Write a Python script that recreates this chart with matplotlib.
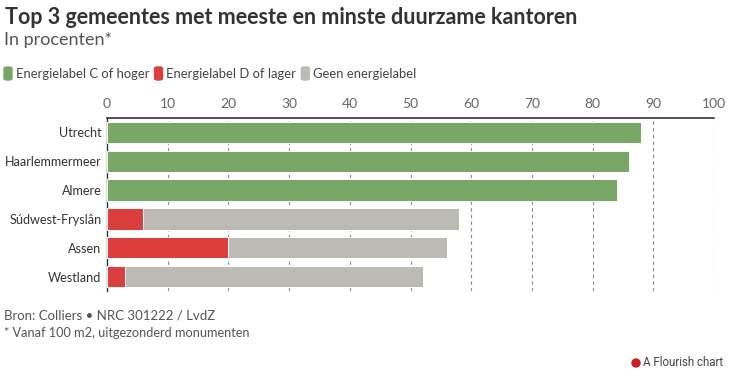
import matplotlib
matplotlib.use("Agg")
import matplotlib.pyplot as plt
from matplotlib.patches import FancyBboxPatch, Ellipse
import numpy as np

plt.rcParams['font.family'] = ['Lato', 'DejaVu Sans']

gemeenten = ["Utrecht", "Haarlemmermeer", "Almere", "Súdwest-Fryslân", "Assen", "Westland"]
label_c_hoger = [88, 86, 84, 0, 0, 0]
label_d_lager = [0, 0, 0, 6, 20, 3]
geen_label = [0, 0, 0, 52, 36, 49]

series_names = ["Energielabel C of hoger", "Energielabel D of lager", "Geen energielabel"]
colors = ["#79a765", "#dc3e3e", "#bbbab5"]
xticks = [0, 10, 20, 30, 40, 50, 60, 70, 80, 90, 100]

W, H = 729, 379
fig = plt.figure(figsize=(W / 100, H / 100), dpi=100)
ax = fig.add_axes([107 / W, 1 - 291 / H, (714 - 107) / W, (291 - 118) / H])

y = np.arange(len(gemeenten))
left = np.zeros(len(gemeenten))
for vals, col in zip([label_c_hoger, label_d_lager, geen_label], colors):
    vals = np.array(vals, dtype=float)
    ax.barh(y, vals, left=left, height=0.74, color=col, edgecolor="white",
            linewidth=0.7, zorder=3)
    left += vals

ax.set_xlim(0, 100)
ax.set_ylim(len(gemeenten) - 0.5, -0.5)
ax.set_xticks(xticks)
ax.xaxis.tick_top()
ax.tick_params(axis="x", length=0, pad=6, labelsize=10, labelcolor="#666666")
ax.set_yticks(y)
ax.set_yticklabels(gemeenten)
ax.tick_params(axis="y", length=0, pad=4, labelsize=9.1, labelcolor="#333333")
for t in xticks[1:]:
    ax.axvline(t, color="#888888", linestyle=(0, (3, 3)), linewidth=0.8, zorder=1)
for s in ["right", "bottom"]:
    ax.spines[s].set_visible(False)
ax.spines["top"].set_color("#333333")
ax.spines["top"].set_linewidth(1.2)
ax.spines["left"].set_color("#333333")
ax.spines["left"].set_linewidth(1.0)
ax.spines["top"].set_zorder(4)

fig.text(5 / W, 1 - 17 / H, "Top 3 gemeentes met meeste en minste duurzame kantoren",
         fontsize=15.5, fontweight="bold", color="#333333", va="center", ha="left")
fig.text(4 / W, 1 - 40 / H, "In procenten*", fontsize=13, color="#555555",
         va="center", ha="left")

# legend
x = 4
for name, col in zip(series_names, colors):
    box = FancyBboxPatch((x / W, 1 - 80 / H), 8 / W, 13 / H,
                         boxstyle="round,pad=0,rounding_size=0.004",
                         transform=fig.transFigure, color=col)
    fig.patches.append(box)
    t = fig.text((x + 12) / W, 1 - 73.5 / H, name, fontsize=9.4, color="#444444",
                 va="center", ha="left")
    fig.canvas.draw()
    bb = t.get_window_extent()
    x = bb.x1 + 5

fig.text(4 / W, 1 - 316 / H, "Bron: Colliers \u2022 NRC 301222 / LvdZ", fontsize=9.5,
         color="#555555", va="center", ha="left")
fig.text(4 / W, 1 - 333 / H, "* Vanaf 100 m2, uitgezonderd monumenten", fontsize=9.2,
         color="#555555", va="center", ha="left")

fig.patches.append(Ellipse((636 / W, 1 - 363 / H), 8 / W, 8 / H,
                           transform=fig.transFigure, color="#cc1f1f"))
fig.text(643 / W, 1 - 363 / H, "A Flourish chart", fontsize=8.3, color="#444444",
         va="center", ha="left", family=["Roboto", "DejaVu Sans"])

fig.savefig("out.png", dpi=100, facecolor="white")
